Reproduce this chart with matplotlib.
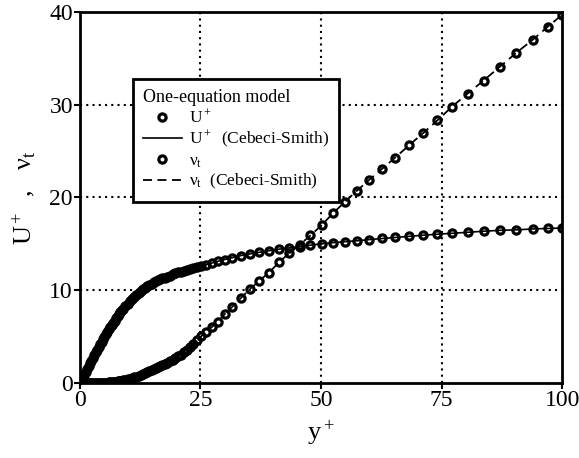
import matplotlib
matplotlib.use("Agg")
import matplotlib.pyplot as plt

# y+ grid points (dense near the wall)
y_plus = [0, 0.3, 0.6, 0.9, 1.2, 1.5, 1.8, 2.1, 2.4, 2.7, 3.0, 3.3, 3.6, 3.9,
          4.2, 4.5, 4.8, 5.1, 5.4, 5.7, 6.0, 6.3, 6.6, 6.9, 7.2, 7.5, 7.8,
          8.1, 8.4, 8.7, 9.0,
          9.45, 9.9, 10.35, 10.8, 11.25, 11.7, 12.15, 12.6, 13.05, 13.5,
          13.95, 14.4, 14.85, 15.3, 15.75, 16.2, 16.65, 17.1, 17.55, 18.0,
          18.6, 19.2, 19.8, 20.4, 21.0, 21.6, 22.2, 22.8,
          23.5, 24.3, 25.2, 26.2, 27.3, 28.6, 30.0, 31.6, 33.3, 35.2,
          37.2, 39.2, 41.3, 43.4, 45.6, 47.8, 50.1, 52.5, 54.9, 57.4,
          60.0, 62.7, 65.4, 68.2, 71.1, 74.1, 77.2, 80.4, 83.7, 87.1,
          90.5, 93.9, 97.0, 100.0]

u_plus = [0, 0.3, 0.6, 0.9, 1.2, 1.5, 1.8, 2.1, 2.4, 2.7, 3.0, 3.28, 3.57,
          3.86, 4.14, 4.42, 4.7, 4.97, 5.24, 5.5, 5.76, 6.01, 6.25, 6.49,
          6.72, 6.95, 7.17, 7.39, 7.6, 7.81, 8.01,
          8.3, 8.55, 8.8, 9.05, 9.28, 9.5, 9.72, 9.92, 10.1, 10.28,
          10.43, 10.57, 10.71, 10.85, 10.96, 11.06, 11.16, 11.26, 11.36, 11.45,
          11.57, 11.69, 11.81, 11.92, 12.01, 12.1, 12.2, 12.28,
          12.37, 12.48, 12.62, 12.76, 12.92, 13.1, 13.3, 13.5, 13.72, 13.9,
          14.08, 14.25, 14.42, 14.56, 14.7, 14.85, 15.0, 15.12, 15.22, 15.32,
          15.45, 15.57, 15.68, 15.8, 15.92, 16.03, 16.13, 16.24, 16.35, 16.45,
          16.5, 16.6, 16.65, 16.7]

nu_t = [0, 0, 0, 0, 0, 0, 0, 0, 0, 0, 0, 0, 0, 0, 0, 0.01, 0.02, 0.02, 0.03,
        0.04, 0.05, 0.06, 0.08, 0.1, 0.12, 0.14, 0.16, 0.19, 0.22, 0.25, 0.28,
        0.33, 0.39, 0.45, 0.51, 0.59, 0.67, 0.76, 0.85, 0.94, 1.03,
        1.13, 1.23, 1.34, 1.45, 1.56, 1.68, 1.8, 1.92, 2.05, 2.17,
        2.34, 2.52, 2.7, 2.9, 3.05, 3.3, 3.55, 3.85,
        4.2, 4.6, 5.05, 5.5, 6.0, 6.6, 7.4, 8.2, 9.1, 10.1,
        11.0, 11.9, 13.0, 14.0, 14.9, 15.9, 17.0, 18.3, 19.5, 20.7,
        21.9, 23.1, 24.3, 25.6, 26.9, 28.3, 29.8, 31.2, 32.6, 34.1,
        35.6, 37.0, 38.4, 39.7]

x_ticks = [0, 25, 50, 75, 100]
y_ticks = [0, 10, 20, 30, 40]

plt.rcParams['font.family'] = ['Liberation Serif', 'DejaVu Serif']
plt.rcParams['mathtext.fontset'] = 'stix'

fig = plt.figure(figsize=(5.79, 4.58), dpi=100)
ax = fig.add_axes([0.138, 0.164, 0.833, 0.810])

ax.plot(y_plus, u_plus, 'o', mfc='none', mec='black', ms=5.2, mew=2.3,
        label=r'$\mathregular{U^+}$', zorder=3)
ax.plot(y_plus, u_plus, '-', color='black', lw=1.2,
        label=r'$\mathregular{U^+}$  (Cebeci-Smith)', zorder=2)
ax.plot(y_plus, nu_t, 'o', mfc='none', mec='black', ms=5.2, mew=2.3,
        label=r'$\mathregular{ν_t}$', zorder=3)
ax.plot(y_plus, nu_t, '--', color='black', lw=1.3, dashes=(5, 3),
        label=r'$\mathregular{ν_t}$  (Cebeci-Smith)', zorder=4)

ax.set_xlim(0, 100)
ax.set_ylim(0, 40)
ax.set_xticks(x_ticks)
ax.set_yticks(y_ticks)
ax.tick_params(direction='out', length=4, width=1.5, labelsize=17, pad=1)
for s in ax.spines.values():
    s.set_linewidth(2)

for xv in x_ticks[1:-1]:
    ax.axvline(xv, color='black', ls=(0, (1, 2)), lw=1.5, zorder=1)
for yv in y_ticks[1:-1]:
    ax.axhline(yv, color='black', ls=(0, (1, 2)), lw=1.5, zorder=1)

ax.set_xlabel(r'$\mathregular{y^+}$', fontsize=19, labelpad=6)
ax.set_ylabel(r'$\mathregular{U^+}$  ,   $\mathregular{ν_t}$', fontsize=19,
              labelpad=8)

leg = ax.legend(loc='upper left', bbox_to_anchor=(0.11, 0.82),
                borderaxespad=0, title='One-equation model', fontsize=12.5,
                title_fontsize=13, frameon=True, fancybox=False,
                handlelength=2.2, handletextpad=0.4, labelspacing=0.15,
                borderpad=0.6)
leg._legend_box.align = 'left'
leg.get_frame().set_edgecolor('black')
leg.get_frame().set_linewidth(2)
leg.get_frame().set_alpha(1)

fig.savefig('out.png', dpi=100)
